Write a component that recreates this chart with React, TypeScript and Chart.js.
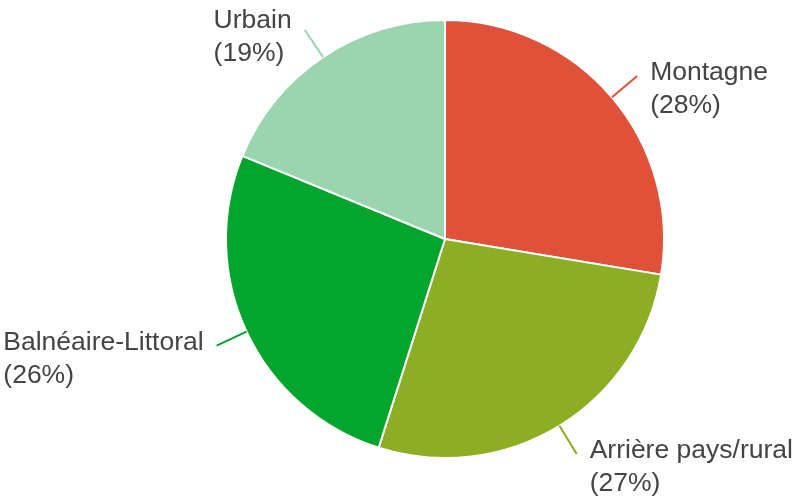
import React, { useEffect, useRef } from "react";
import { Chart, registerables } from "chart.js";

Chart.register(...registerables);

const categories = ["Montagne", "Arrière pays/rural", "Balnéaire-Littoral", "Urbain"];
const values = [27.6, 27.3, 26.3, 18.8];
const sliceColors = ["#DF5139", "#8CAE25", "#03A52D", "#9AD5B0"];

const labelPlugin = {
  id: "outLabels",
  afterDatasetsDraw(chart: any) {
    const ctx = chart.ctx;
    const meta = chart.getDatasetMeta(0);
    const total = values.reduce((a, b) => a + b, 0);
    ctx.save();
    ctx.font = "26.5px 'Liberation Sans', Arial, sans-serif";
    ctx.fillStyle = "#444444";
    ctx.textBaseline = "middle";
    meta.data.forEach((arc: any, i: number) => {
      const { x, y, startAngle, endAngle, outerRadius } = arc.getProps(
        ["x", "y", "startAngle", "endAngle", "outerRadius"],
        true
      );
      const mid = (startAngle + endAngle) / 2;
      const cos = Math.cos(mid);
      const sin = Math.sin(mid);
      const x1 = x + cos * outerRadius;
      const y1 = y + sin * outerRadius;
      const x2 = x + cos * (outerRadius + 33);
      const y2 = y + sin * (outerRadius + 33);
      ctx.strokeStyle = sliceColors[i];
      ctx.lineWidth = 2;
      ctx.beginPath();
      ctx.moveTo(x1, y1);
      ctx.lineTo(x2, y2);
      ctx.stroke();
      const pct = Math.round((values[i] / total) * 100);
      const lines = [categories[i], "(" + pct + "%)"];
      const w = Math.max(...lines.map((l) => ctx.measureText(l).width));
      const right = cos >= 0;
      const tx = right ? x2 + 13 : x2 - 13 - w;
      const upperLeft = !right && sin < -0.5;
      const ty = y2 - (upperLeft ? 9 : 3);
      ctx.textAlign = "left";
      lines.forEach((l, k) => ctx.fillText(l, tx, ty + k * 33));
    });
    ctx.restore();
  },
};

export default function App() {
  const ref = useRef<HTMLCanvasElement>(null);
  useEffect(() => {
    document.body.style.margin = "0";
    const chart = new Chart(ref.current!, {
      type: "pie",
      data: {
        labels: categories,
        datasets: [
          {
            data: values,
            backgroundColor: sliceColors,
            borderColor: "#ffffff",
            borderWidth: 2,
          },
        ],
      },
      options: {
        animation: false,
        responsive: false,
        layout: { padding: { left: 96, right: 0, top: 19, bottom: 41 } },
        plugins: {
          legend: { display: false },
          tooltip: { enabled: false },
        },
      },
      plugins: [labelPlugin],
    });
    return () => chart.destroy();
  }, []);
  return (
    <div style={{ width: 794, height: 500, background: "#ffffff" }}>
      <canvas ref={ref} width={794} height={500} />
    </div>
  );
}
